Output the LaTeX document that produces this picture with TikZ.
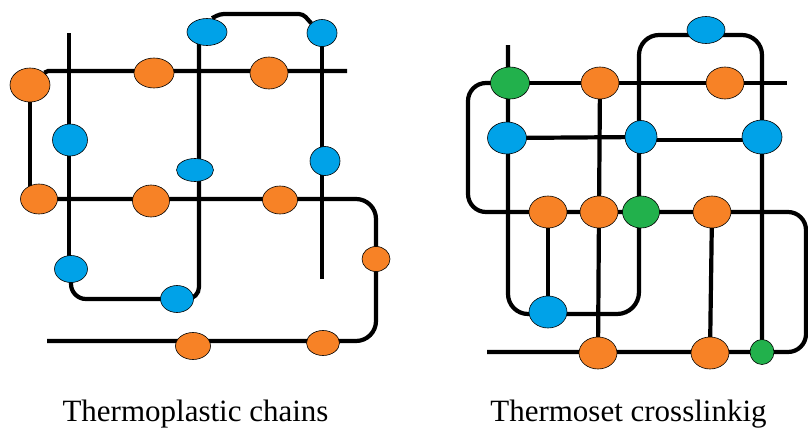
\documentclass[tikz,border=0pt]{standalone}
\usepackage{fontspec}
\setmainfont{Liberation Serif}
\usetikzlibrary{shapes.geometric,backgrounds}
\definecolor{orng}{RGB}{247,130,38}
\definecolor{blu}{RGB}{0,162,232}
\definecolor{grn}{RGB}{34,177,76}
\tikzset{
  bead/.style={ellipse, draw=black, line width=0.6pt, inner sep=0pt},
  obead/.style 2 args={bead, fill=orng, minimum width=#1pt, minimum height=#2pt},
  bbead/.style 2 args={bead, fill=blu, minimum width=#1pt, minimum height=#2pt},
  gbead/.style 2 args={bead, fill=grn, minimum width=#1pt, minimum height=#2pt},
  chain/.style={line width=4.2pt, draw=black},
  caption/.style={anchor=base, inner sep=0pt, font=\fontsize{31}{31}\selectfont}
}
\begin{document}
\begin{tikzpicture}[x=1pt,y=-1pt]
\useasboundingbox (0,0) rectangle (808,431);

% ---------- left: thermoplastic ----------
\node[obead={40}{34}] (Lo1) at (30,85) {};
\node[obead={40}{30}] (Lo2) at (154,73) {};
\node[obead={38}{32}] (Lo3) at (269,73) {};
\node[bbead={40}{27}] (Lb1) at (207,32) {};
\node[bbead={30}{27}] (Lb2) at (322,33) {};
\node[bbead={35}{32}] (Lb3) at (70,140) {};
\node[bbead={37}{23}] (Lb4) at (195,170) {};
\node[bbead={30}{29}] (Lb5) at (325,161) {};
\node[obead={37}{30}] (Lo4) at (39,199) {};
\node[obead={37}{32}] (Lo5) at (151,201) {};
\node[obead={35}{28}] (Lo6) at (280,200) {};
\node[obead={28}{25}] (Lo7) at (376,259) {};
\node[bbead={33}{27}] (Lb6) at (71,269) {};
\node[bbead={33}{27}] (Lb7) at (177,299) {};
\node[obead={35}{27}] (Lo8) at (193,346) {};
\node[obead={33}{25}] (Lo9) at (323,343) {};
\coordinate (Le1) at (347,71);
\coordinate (Lt1) at (69,33);
\coordinate (Lt2) at (322,279);
\coordinate (Le3) at (47,341);

\begin{scope}[on background layer]
  \draw[chain] (Lo1.north east) -- (48,71) -- (Le1);
  \draw[chain] (Lt1) -- (Lt1 |- Lb6.center);
  \draw[chain, rounded corners=15] (Lb6.center) |- (Lb7.center);
  \draw[chain, rounded corners=12] (Lb7.center) -| ([xshift=-8]Lb1.center);
  \draw[chain, rounded corners=4] ([xshift=5]Lb1.north) -- (220,14) -- (303,14) -- (Lb2.north west);
  \draw[chain] (Lb2.center) -- (Lb2.center |- Lt2);
  \draw[chain] (Lo1.center) -- (Lo1.center |- Lo4.center);
  \draw[chain, rounded corners=20] (Lo4.center) -| (Lo7.center) |- (Le3);
\end{scope}

% ---------- right: thermoset ----------
\node[gbead={39}{32}] (Rg1) at (510,83) {};
\node[obead={38}{32}] (Ro1) at (600,83) {};
\node[obead={38}{32}] (Ro2) at (725,83) {};
\node[bbead={38}{27}] (Rb0) at (706,30) {};
\node[bbead={39}{32}] (Rb1) at (507,138) {};
\node[bbead={32}{33}] (Rb2) at (641,137) {};
\node[bbead={40}{34}] (Rb3) at (762,137) {};
\node[obead={38}{32}] (Ro3) at (548,212) {};
\node[obead={38}{32}] (Ro4) at (599,212) {};
\node[gbead={37}{32}] (Rg2) at (641,212) {};
\node[obead={38}{32}] (Ro5) at (712,212) {};
\node[bbead={38}{32}] (Rb4) at (548,312) {};
\node[obead={38}{32}] (Ro6) at (598,353) {};
\node[obead={38}{32}] (Ro7) at (710,353) {};
\node[gbead={24}{25}] (Rg3) at (762,352) {};
\coordinate (Rt1) at (508,45);
\coordinate (Re1) at (787,83);
\coordinate (Rk1) at (468,150);
\coordinate (Rk2) at (806,280);
\coordinate (Re2) at (487,352);

\begin{scope}[on background layer]
  \draw[chain, rounded corners=20] (Rt1) |- ([yshift=-2]Rb4.center);
  \draw[chain, rounded corners=22] ([yshift=-2]Rb4.center) -| ([xshift=-2]Rg2.center);
  \draw[chain, rounded corners=20] ([xshift=-2]Rg2.center) |- ([yshift=-5]Rb0.center) -| (Rg3.center);
  \draw[chain] (Rg1.center) -- (Re1);
  \draw[chain, rounded corners=18] (Rg1.center) -| (Rk1) |- (Ro3.center) -- (Ro5.center) -| (Rk2) |- (Re2);
  \draw[chain] (Rb1.center) -- (Rb2.center);
  \draw[chain] ([yshift=-3]Rb2.center) -- ([yshift=-3]Rb3.center);
  \draw[chain] (Ro1.center) -- (Ro4.center) -- (Ro6.center);
  \draw[chain] (Ro3.center) -- (Rb4.center);
  \draw[chain] (Ro5.center) -- (Ro7.center);
\end{scope}

% ---------- captions ----------
\node[caption] (capL) at (195.5,421) {Thermoplastic chains};
\node[caption] (capR) at (628.5,421) {Thermoset crosslinkig};
\end{tikzpicture}
\end{document}
